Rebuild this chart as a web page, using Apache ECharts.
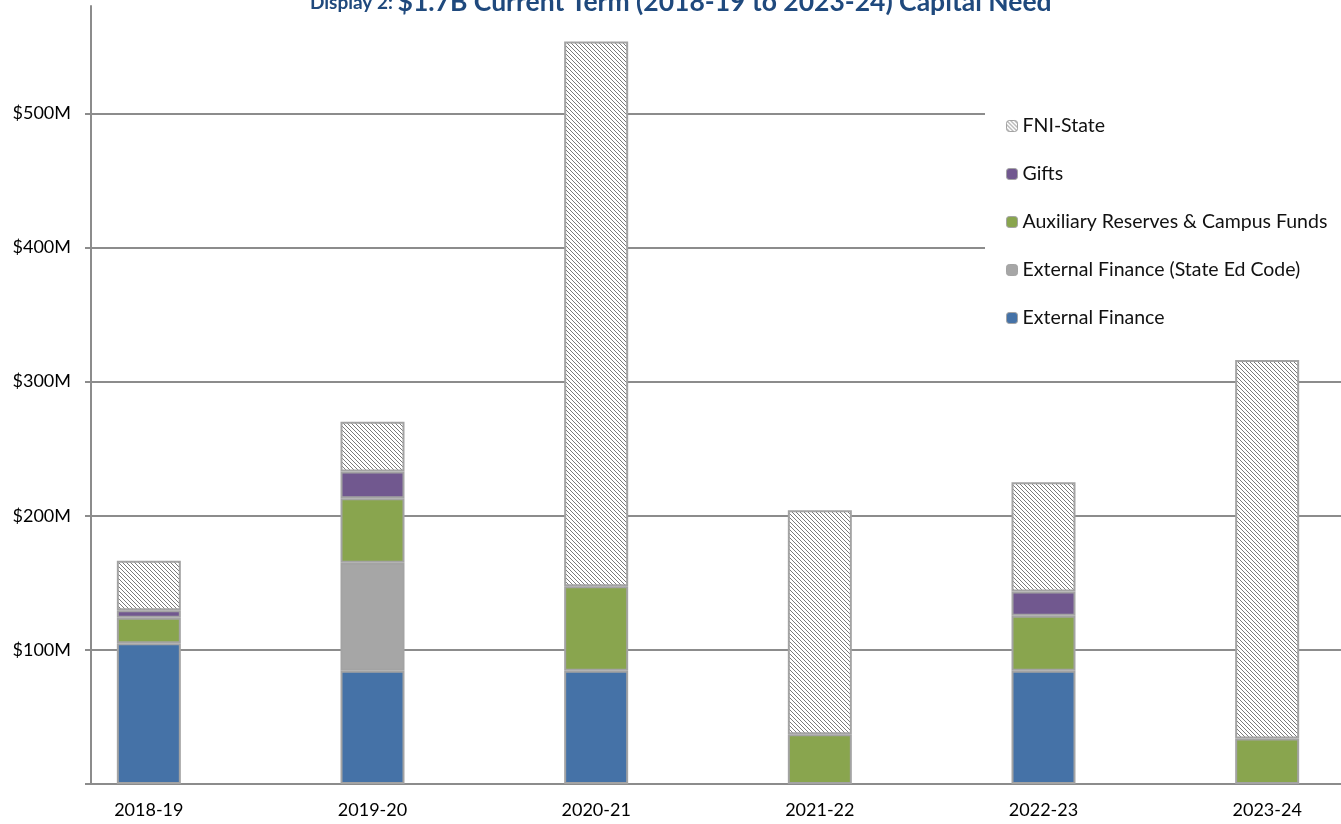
<!DOCTYPE html>
<html>
<head>
<meta charset="utf-8">
<title>Capital Need</title>
<script src="https://cdn.jsdelivr.net/npm/echarts@6/dist/echarts.min.js"></script>
<style>
  html, body { margin: 0; padding: 0; background: #fff; }
  #chart_1 { width: 1341px; height: 824px; }
</style>
</head>
<body>
<div id="chart_1"></div>
<script>
'use strict';
var categories = ['2018-19', '2019-20', '2020-21', '2021-22', '2022-23', '2023-24'];
var externalFinance = [105, 84.5, 84.5, 0, 84.5, 0];
var externalStateEd = [0, 80.5, 0, 0, 0, 0];
var auxiliaryFunds = [19, 48, 63, 37, 41, 34];
var gifts = [5.5, 20, 0, 0, 18, 0];
var fniState = [37, 37, 406, 167, 81.5, 282];
var yTicks = [0, 100, 200, 300, 400, 500];
var yLabels = [100, 200, 300, 400, 500];
var yMax = 580;

// hatch pattern like excel's dark downward diagonal
function hatch() {
  var c = document.createElement('canvas');
  c.width = 8; c.height = 8;
  var ctx = c.getContext('2d');
  ctx.fillStyle = '#ffffff';
  ctx.fillRect(0, 0, 8, 8);
  ctx.fillStyle = '#7a7a7a';
  for (var k = 0; k < 8; k++) {
    ctx.fillRect(k, k, 1, 1);
    ctx.fillRect(k, (k + 4) % 8, 1, 1);
  }
  return { image: c, repeat: 'repeat' };
}

// zero segments are left out so they draw no border line
function vals(arr) {
  return arr.map(function (v) { return v > 0 ? v : '-'; });
}

function bar(name, arr, color) {
  return {
    name: name,
    type: 'bar',
    stack: 'total',
    xAxisIndex: 1,
    yAxisIndex: 1,
    barWidth: 64,
    data: vals(arr),
    itemStyle: { color: color, borderColor: '#a3a3a3', borderWidth: 2 }
  };
}

var font = 'Lato, "Open Sans", sans-serif';
var gridColor = '#8c8c8c';
var myChart = echarts.init(document.getElementById('chart_1'));
var option = {
  animation: false,
  title: {
    text: '{a|Display 2: }{b|$1.7B Current Term (2018-19 to 2023-24) Capital Need}',
    left: 305,
    top: -16,
    textStyle: {
      rich: {
        a: { fontFamily: font, fontSize: 19, color: '#1f497d', fontWeight: 'bold' },
        b: { fontFamily: font, fontSize: 26.5, color: '#1f497d', fontWeight: 'bold' }
      }
    }
  },
  legend: {
    orient: 'vertical',
    left: 985,
    top: 96,
    padding: [20, 40, 20, 21],
    backgroundColor: '#ffffff',
    itemWidth: 11,
    itemHeight: 11,
    itemGap: 28,
    itemStyle: { borderColor: '#a3a3a3', borderWidth: 1 },
    textStyle: { fontFamily: font, fontSize: 19.5, lineHeight: 20, color: '#111' },
    data: ['FNI-State', 'Gifts', 'Auxiliary Reserves & Campus Funds',
           'External Finance (State Ed Code)', 'External Finance']
  },
  // grid 0 carries the axes and gridlines, grid 1 places the bars
  grid: [
    { left: 91, right: 0, top: 6, bottom: 40 },
    { left: 37, right: -38, top: 6, bottom: 40, outerBoundsMode: 'none' }
  ],
  xAxis: [
    {
      type: 'category',
      gridIndex: 0,
      data: categories,
      axisLine: { show: true, lineStyle: { color: gridColor, width: 2 } },
      axisTick: { show: false },
      axisLabel: { show: false }
    },
    {
      type: 'category',
      gridIndex: 1,
      data: categories,
      axisLine: { show: false },
      axisTick: { show: false },
      axisLabel: { fontFamily: font, fontSize: 18, color: '#000', margin: 17 }
    }
  ],
  yAxis: [
    {
      type: 'value',
      gridIndex: 0,
      min: 0,
      max: yMax,
      interval: 100,
      axisLine: { show: true, lineStyle: { color: gridColor, width: 2 } },
      axisTick: { show: true, length: 6, customValues: yTicks, lineStyle: { color: gridColor, width: 2 } },
      splitLine: { show: true, lineStyle: { color: gridColor, width: 2 } },
      axisLabel: {
        customValues: yLabels,
        formatter: function (v) { return '$' + v + 'M'; },
        fontFamily: font, fontSize: 18, color: '#000', margin: 20
      }
    },
    {
      type: 'value',
      gridIndex: 1,
      min: 0,
      max: yMax,
      show: false
    }
  ],
  series: [
    bar('External Finance', externalFinance, '#4572a7'),
    bar('External Finance (State Ed Code)', externalStateEd, '#a6a6a6'),
    bar('Auxiliary Reserves & Campus Funds', auxiliaryFunds, '#89a54e'),
    bar('Gifts', gifts, '#71588f'),
    bar('FNI-State', fniState, hatch())
  ]
};
myChart.setOption(option);
</script>
</body>
</html>
